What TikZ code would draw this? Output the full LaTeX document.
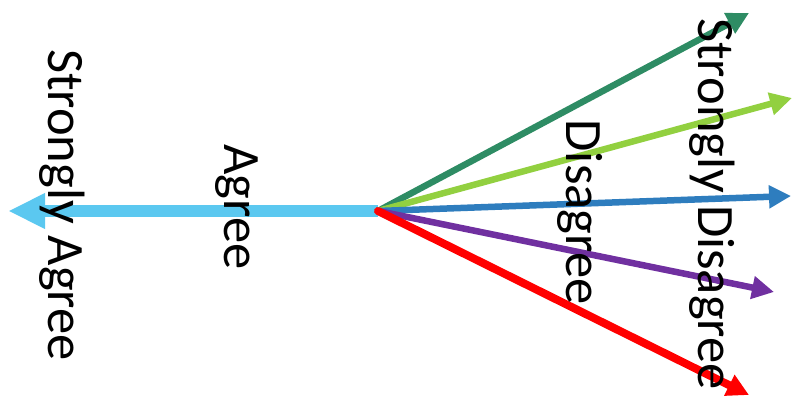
\documentclass[tikz,border=0pt]{standalone}
\usepackage{fontspec}
\setmainfont{Carlito}
\usetikzlibrary{arrows.meta}
\definecolor{cLBlue}{RGB}{91,200,240}
\definecolor{cDGreen}{RGB}{46,140,100}
\definecolor{cLGreen}{RGB}{146,208,64}
\definecolor{cBlue}{RGB}{46,125,190}
\definecolor{cPurple}{RGB}{112,48,160}
\definecolor{cRed}{RGB}{255,0,0}
\tikzset{
  ray/.style={line width=6.5pt, -{Triangle[length=22pt,width=22pt]}},
  lbl/.style={rotate=-90, font=\fontsize{52.5}{63}\selectfont, inner sep=0pt, text=black}
}
\begin{document}
\begin{tikzpicture}[x=1pt,y=-1pt]
\useasboundingbox (0,0) rectangle (798,404);
\coordinate (O) at (378,211);
\coordinate (tL) at (8,211);
\coordinate (tDG) at (749,13);
\coordinate (tLG) at (792,98);
\coordinate (tB) at (791,196);
\coordinate (tP) at (774,292);
\coordinate (tR) at (749,395);
\draw[cLBlue, line width=12pt, -{Triangle[length=37pt,width=33pt]}] (O) -- (tL);
\draw[ray, cDGreen] (O) -- (tDG);
\draw[ray, cLGreen] (O) -- (tLG);
\draw[ray, cBlue] (O) -- (tB);
\draw[ray, cPurple] (O) -- (tP);
\draw[ray, cRed, line width=8pt, line cap=round] (O) -- (tR);
\node[lbl] (sa) at (62,205) {Strongly Agree};
\node[lbl] (a) at (237,207) {Agree};
\node[lbl] (d) at (580,212) {Disagree};
\node[lbl] (sd) at (712,204) {Strongly Disagree};
\end{tikzpicture}
\end{document}
